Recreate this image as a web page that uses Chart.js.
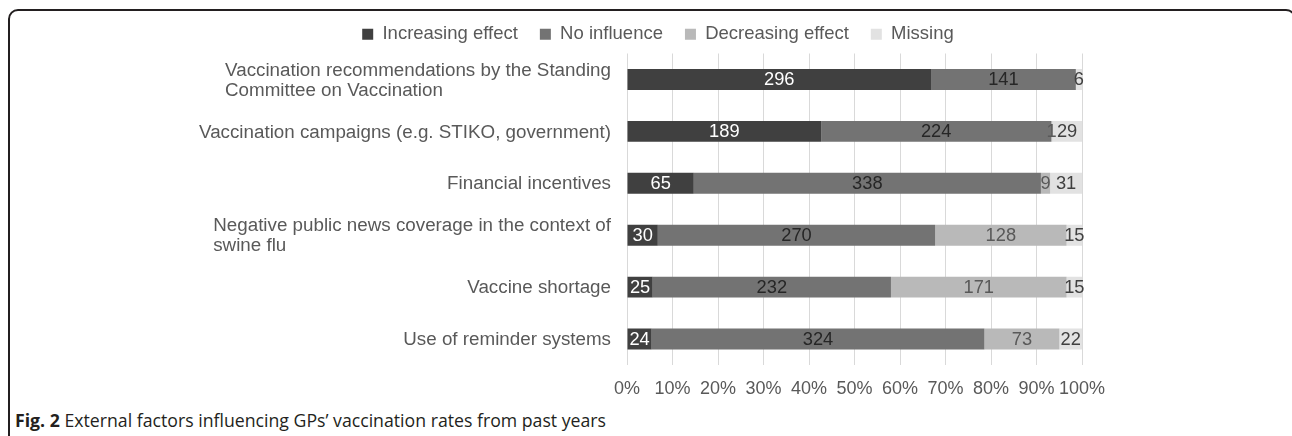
<!DOCTYPE html>
<html>
<head>
<meta charset="utf-8">
<script src="https://cdn.jsdelivr.net/npm/chart.js@4.4.1/dist/chart.umd.min.js"></script>
<style>
    html, body { margin: 0; padding: 0; background: #fff; }
    body { width: 1292px; height: 436px; position: relative; overflow: hidden; }
    #frame {
        position: absolute; left: 8px; top: 9px;
        width: 1288px; height: 520px;
        box-sizing: border-box;
        border: 2px solid #231f20; border-radius: 10px;
    }
    #chart { position: absolute; left: 0; top: 0; }
    #caption {
        position: absolute; left: 15px; top: 408px;
        font-family: "Open Sans", sans-serif; font-size: 17.7px; color: #231f20;
        white-space: nowrap;
    }
    #caption b { font-weight: 700; }
</style>
</head>
<body>
<div id="frame"></div>
<canvas id="chart" width="1292" height="400"></canvas>
<div id="caption"><b>Fig. 2</b> External factors influencing GPs’ vaccination rates from past years</div>

<script>
// Category labels (one entry per line of text)
const categories = [
    ['Vaccination recommendations by the Standing', 'Committee on Vaccination'],
    ['Vaccination campaigns (e.g. STIKO, government)'],
    ['Financial incentives'],
    ['Negative public news coverage in the context of', 'swine flu'],
    ['Vaccine shortage'],
    ['Use of reminder systems']
];

const seriesNames = ['Increasing effect', 'No influence', 'Decreasing effect', 'Missing'];

// Counts per category
const increasing = [296, 189, 65, 30, 25, 24];
const noInfluence = [141, 224, 338, 270, 232, 324];
const decreasing = [0, 1, 9, 128, 171, 73];
const missing = [6, 29, 31, 15, 15, 22];

const xTicks = [0, 10, 20, 30, 40, 50, 60, 70, 80, 90, 100];

const barColors = ['#404040', '#737373', '#b9b9b9', '#e2e2e2'];
const valueColors = ['#ffffff', '#262626', '#595959', '#404040'];
const TEXT_GRAY = '#595959';
const FONT = '"Liberation Sans", Arial, sans-serif';

const counts = [increasing, noInfluence, decreasing, missing];
const rowTotals = categories.map((c, i) => counts.reduce((s, arr) => s + arr[i], 0));

// --- Value labels centred on each segment ---
const valueLabels = {
    id: 'valueLabels',
    afterDatasetsDraw(chart) {
        const ctx = chart.ctx;
        ctx.save();
        ctx.font = '18.3px ' + FONT;
        ctx.textAlign = 'center';
        ctx.textBaseline = 'middle';
        chart.data.datasets.forEach((ds, di) => {
            const meta = chart.getDatasetMeta(di);
            meta.data.forEach((bar, i) => {
                const n = counts[di][i];
                if (!n) return;
                ctx.fillStyle = valueColors[di];
                ctx.fillText(String(n), (bar.x + bar.base) / 2, bar.y + 1);
            });
        });
        ctx.restore();
    }
};

// --- Category labels: block right-aligned, lines left-aligned (Excel style) ---
const categoryLabels = {
    id: 'categoryLabels',
    afterDraw(chart) {
        const ctx = chart.ctx;
        const yScale = chart.scales.y;
        const right = chart.chartArea.left - 16;
        const lineH = 20;
        ctx.save();
        ctx.font = '18.8px ' + FONT;
        ctx.fillStyle = TEXT_GRAY;
        ctx.textAlign = 'left';
        ctx.textBaseline = 'middle';
        categories.forEach((lines, i) => {
            const cy = yScale.getPixelForValue(i);
            const w = Math.max(...lines.map(l => ctx.measureText(l).width));
            lines.forEach((l, j) => {
                ctx.fillText(l, right - w, cy + (j - (lines.length - 1) / 2) * lineH + 1);
            });
        });
        ctx.restore();
    }
};

new Chart(document.getElementById('chart').getContext('2d'), {
    type: 'bar',
    data: {
        labels: categories.map(c => c.join(' ')),
        datasets: counts.map((arr, di) => ({
            label: seriesNames[di],
            data: arr.map((v, i) => v / rowTotals[i] * 100),
            backgroundColor: barColors[di],
            borderWidth: 0,
            categoryPercentage: 1,
            barPercentage: 0.404
        }))
    },
    options: {
        indexAxis: 'y',
        responsive: false,
        animation: false,
        layout: { padding: { top: 3, left: 24, right: 0, bottom: 0 } },
        plugins: {
            legend: {
                position: 'top',
                labels: {
                    boxWidth: 11,
                    boxHeight: 11,
                    padding: 22,
                    color: TEXT_GRAY,
                    font: { family: FONT, size: 18.5 }
                }
            },
            tooltip: { enabled: false }
        },
        scales: {
            x: {
                stacked: true,
                min: 0,
                max: 100,
                afterBuildTicks: s => { s.ticks = xTicks.map(v => ({ value: v })); },
                grid: { color: '#d9d9d9', drawTicks: false },
                border: { display: false },
                ticks: {
                    padding: 13,
                    maxRotation: 0,
                    minRotation: 0,
                    autoSkip: false,
                    color: TEXT_GRAY,
                    font: { family: FONT, size: 18 },
                    callback: v => v + '%'
                },
                afterFit: s => { s.height = 35; }
            },
            y: {
                stacked: true,
                grid: { display: false },
                border: { display: false },
                ticks: { display: false },
                afterFit: s => { s.width = 603; }
            },
            yRight: {
                type: 'linear',
                position: 'right',
                grid: { display: false },
                border: { display: false },
                ticks: { display: false },
                afterFit: s => { s.width = 210; }
            }
        }
    },
    plugins: [valueLabels, categoryLabels]
});
</script>
</body>
</html>
